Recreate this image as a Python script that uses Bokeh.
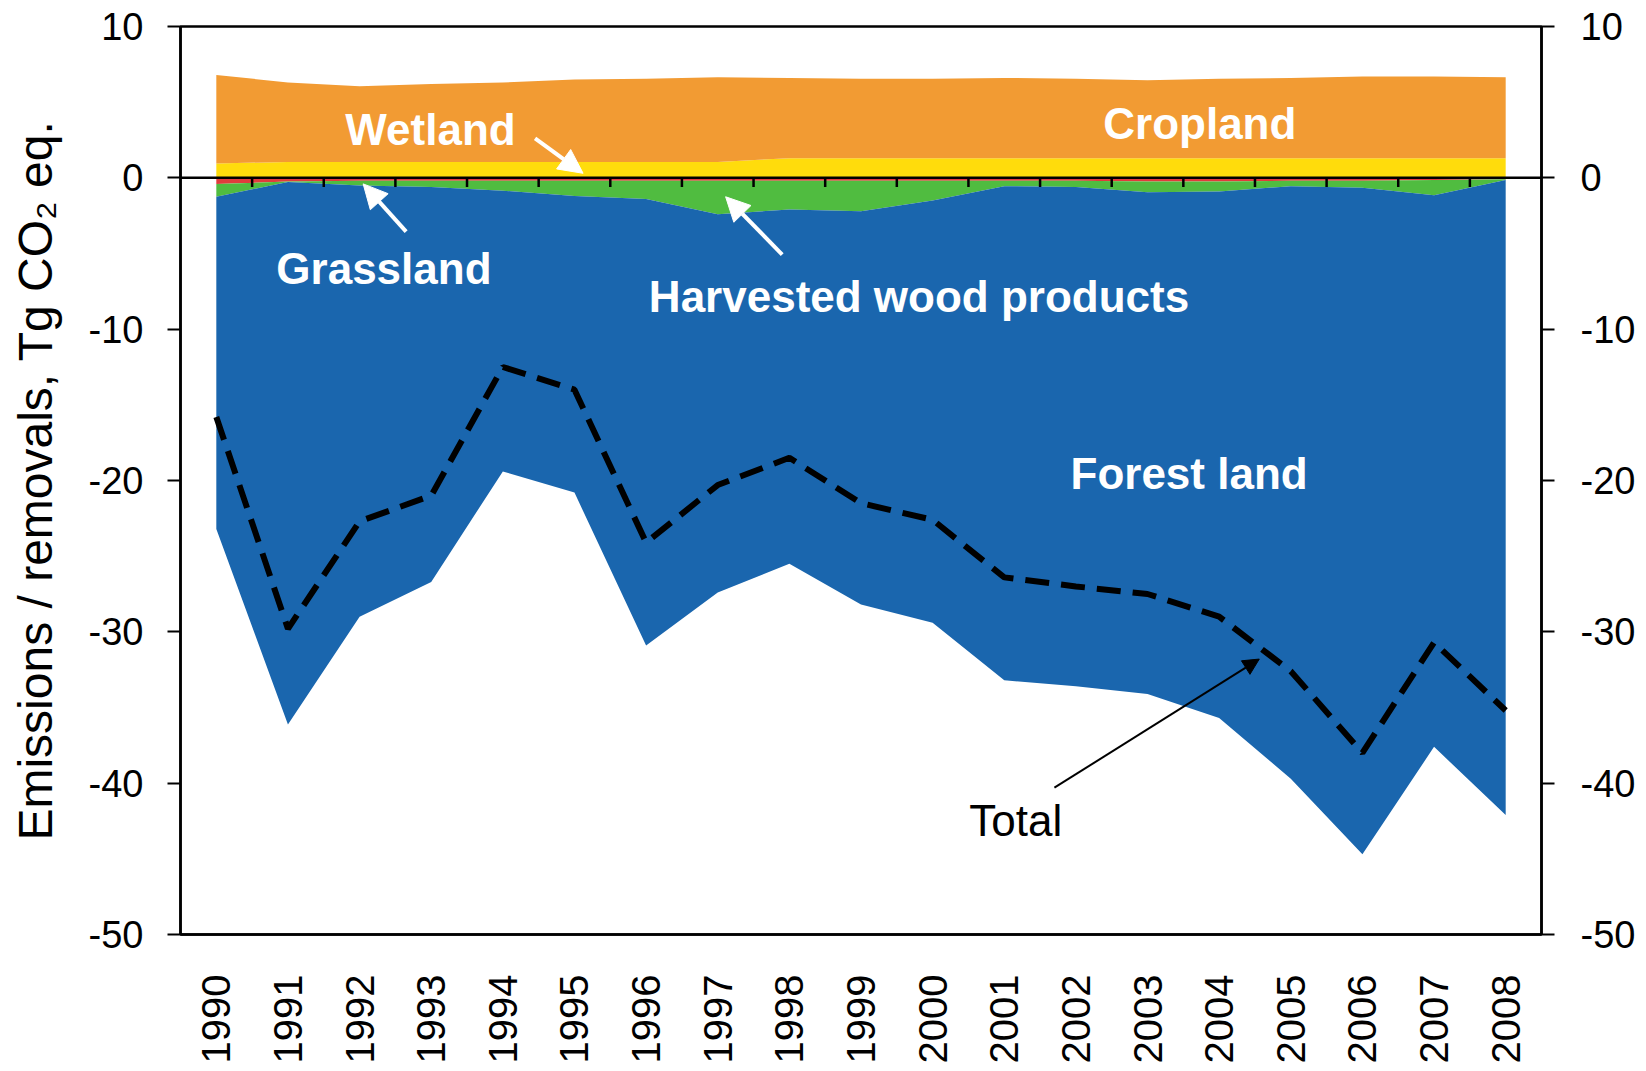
import math
from bokeh.plotting import figure
from bokeh.models import (Range1d, LinearAxis, FixedTicker, Label, Arrow,
                          NormalHead, Span, ColumnDataSource)
from bokeh.embed import file_html
from bokeh.resources import INLINE

# ---------------- data (Tg CO2 eq.) ----------------
years = ["1990", "1991", "1992", "1993", "1994", "1995", "1996", "1997", "1998", "1999",
         "2000", "2001", "2002", "2003", "2004", "2005", "2006", "2007", "2008"]
wetland = [0.95, 1.05, 1.05, 1.05, 1.05, 1.05, 1.05, 1.05, 1.3, 1.3,
           1.3, 1.3, 1.3, 1.3, 1.3, 1.3, 1.3, 1.3, 1.3]
cropland = [5.85, 5.25, 5.0, 5.15, 5.25, 5.45, 5.5, 5.6, 5.3, 5.25,
            5.25, 5.3, 5.25, 5.15, 5.25, 5.3, 5.4, 5.4, 5.35]
grassland = [-0.4, -0.25, -0.2, -0.2, -0.2, -0.2, -0.2, -0.2, -0.2, -0.2,
             -0.2, -0.2, -0.2, -0.25, -0.25, -0.2, -0.2, -0.15, -0.1]
hwp = [-0.85, -0.02, -0.3, -0.4, -0.65, -1.0, -1.2, -2.2, -1.9, -2.0,
       -1.3, -0.35, -0.4, -0.7, -0.65, -0.35, -0.45, -1.0, -0.05]
forest = [-21.95, -35.85, -28.5, -26.1, -18.55, -19.6, -29.5, -25.0, -23.4, -26.0,
          -27.9, -32.65, -33.0, -33.15, -34.8, -39.15, -44.05, -36.45, -41.95]
total = [-15.8, -29.8, -22.7, -21.0, -12.5, -14.0, -24.1, -20.3, -18.5, -21.5,
         -22.6, -26.4, -27.0, -27.5, -29.0, -32.6, -38.0, -30.7, -35.2]
y_ticks = [10, 0, -10, -20, -30, -40, -50]
y_tick_labels = ["10", "0", "-10", "-20", "-30", "-40", "-50"]

# ---------------- styling ----------------
FONT = "Liberation Sans"
C_WET = "#FFDC0C"
C_CROP = "#F29B33"
C_GRASS = "#E03C3C"
C_HWP = "#50BC40"
C_FOREST = "#1A66AE"

xs = list(range(len(years)))
src = ColumnDataSource(dict(x=xs, wetland=wetland, cropland=cropland, grassland=grassland,
                            hwp=hwp, forest=forest, total=total))

p = figure(width=1638, height=1066,
           x_range=Range1d(-0.5, len(years) - 0.5), y_range=Range1d(-50, 10),
           output_backend="svg", toolbar_location=None,
           x_axis_location=None, y_axis_location=None,
           min_border_left=180, min_border_right=96, min_border_top=26, min_border_bottom=132)
p.xgrid.grid_line_color = None
p.ygrid.grid_line_color = None
p.background_fill_color = "white"
p.border_fill_color = "white"
p.outline_line_color = "black"
p.outline_line_width = 2.5

# stacked areas
p.varea_stack(["wetland", "cropland"], x="x", color=[C_WET, C_CROP], source=src)
p.varea_stack(["grassland", "hwp", "forest"], x="x", color=[C_GRASS, C_HWP, C_FOREST], source=src)

# total dashed line
p.line("x", "total", source=src, line_color="black", line_width=6, line_dash="24 12")

# zero axis line with category-boundary ticks
p.add_layout(Span(location=0, dimension="width", line_color="black", line_width=2.5))
bx = [i + 0.5 for i in xs[:-1]]
p.segment(x0=bx, y0=[0] * len(bx), x1=bx, y1=[-0.6] * len(bx), line_color="black", line_width=2.5)

# axes
ylab = {t: s for t, s in zip(y_ticks, y_tick_labels)}

def style_y(ax):
    ax.axis_line_color = "black"
    ax.axis_line_width = 2.5
    ax.major_tick_line_color = "black"
    ax.major_tick_line_width = 2
    ax.major_tick_in = 0
    ax.major_tick_out = 13
    ax.minor_tick_line_color = None
    ax.major_label_text_font = FONT
    ax.major_label_text_font_size = "38px"
    ax.major_label_text_color = "black"
    ax.major_label_overrides = ylab

left = LinearAxis(ticker=FixedTicker(ticks=y_ticks),
                  axis_label="Emissions / removals, Tg CO\u2082 eq.")
style_y(left)
left.major_label_standoff = 24
left.axis_label_text_font = FONT
left.axis_label_text_font_size = "48px"
left.axis_label_text_font_style = "normal"
left.axis_label_text_color = "black"
left.axis_label_standoff = 24
p.add_layout(left, "left")

right = LinearAxis(ticker=FixedTicker(ticks=y_ticks))
style_y(right)
right.major_label_standoff = 26
p.add_layout(right, "right")

bottom = LinearAxis(ticker=FixedTicker(ticks=xs),
                    major_label_overrides={i: y for i, y in zip(xs, years)})
bottom.axis_line_color = "black"
bottom.axis_line_width = 2.5
bottom.major_tick_line_color = None
bottom.minor_tick_line_color = None
bottom.major_tick_in = 0
bottom.major_tick_out = 0
bottom.major_label_orientation = math.pi / 2
bottom.major_label_standoff = 40
bottom.major_label_text_font = FONT
bottom.major_label_text_font_size = "40px"
bottom.major_label_text_color = "black"
p.add_layout(bottom, "below")

# labels
def lab(x, y, t, color="white", bold=True, size="44px"):
    p.add_layout(Label(x=x, y=y, text=t, text_color=color, text_font=FONT,
                       text_font_size=size, text_font_style="bold" if bold else "normal",
                       text_align="center", text_baseline="middle"))

lab(2.99, 3.2, "Wetland")
lab(13.73, 3.6, "Cropland")
lab(2.34, -5.97, "Grassland")
lab(9.81, -7.86, "Harvested wood products")
lab(13.58, -19.57, "Forest land")
lab(11.16, -42.44, "Total", color="black", bold=False, size="44px")

# arrows
def arr(x0, y0, x1, y1, color, lw, hs):
    p.add_layout(Arrow(end=NormalHead(size=hs, fill_color=color, line_color=color, line_width=1),
                       x_start=x0, y_start=y0, x_end=x1, y_end=y1,
                       line_color=color, line_width=lw))

arr(4.45, 2.6, 5.12, 0.3, "white", 4, 24)
arr(2.65, -3.55, 2.05, -0.4, "white", 4, 24)
arr(7.9, -5.07, 7.11, -1.25, "white", 4, 24)
arr(11.7, -40.3, 14.56, -31.8, "black", 2, 16)

open("out.html", "w").write(file_html(p, INLINE))
